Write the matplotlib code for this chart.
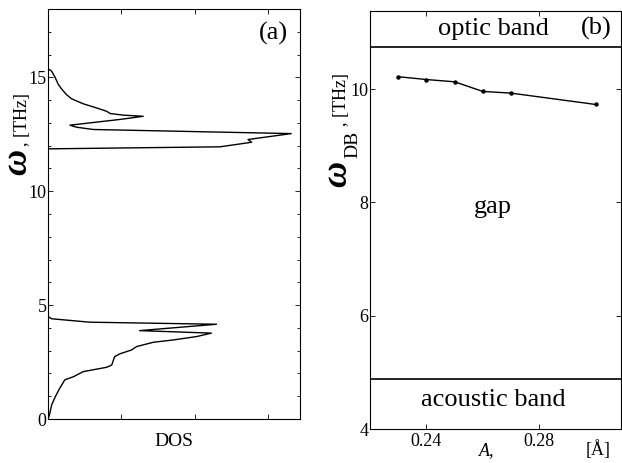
import matplotlib
matplotlib.use("Agg")
import matplotlib.pyplot as plt
from matplotlib.ticker import MultipleLocator

plt.rcParams['font.family'] = ['Liberation Serif', 'DejaVu Serif']
plt.rcParams['mathtext.fontset'] = 'stix'

# (a) density of states from bottom to top
dos = [0, 0.02, 0.05, 0.10, 0.16, 0.23, 0.35, 0.48, 0.80, 0.87, 0.91, 0.98,
       1.14, 1.21, 1.44, 1.71, 2.03, 2.23, 1.25, 1.70, 2.30, 0.57, 0.05, 0,
       0, 2.35, 2.78, 2.73, 3.32, 0.62, 0.39, 0.30, 0.98, 1.30, 1.03, 0.85,
       0.80, 0.66, 0.48, 0.32, 0.25, 0.19, 0.14, 0.10, 0.05, 0, 0]
omega = [0, 0.18, 0.62, 0.98, 1.35, 1.72, 1.86, 2.08, 2.27, 2.37, 2.74, 2.86,
         3.03, 3.18, 3.37, 3.47, 3.62, 3.77, 3.88, 4.00, 4.16, 4.25, 4.40, 4.50,
         11.86, 11.95, 12.15, 12.27, 12.53, 12.71, 12.81, 12.90, 13.15, 13.29, 13.34, 13.41,
         13.51, 13.66, 13.84, 14.06, 14.25, 14.47, 14.69, 14.98, 15.27, 15.38, 18]

# (b) discrete breather frequency vs amplitude
amp = [0.23, 0.24, 0.25, 0.26, 0.27, 0.30]
omega_db = [10.22, 10.17, 10.13, 9.96, 9.93, 9.73]
optic_edge = 10.74
acoustic_edge = 4.88

W, H = 622, 463
fig = plt.figure(figsize=(6.22, 4.63), dpi=100)

def px(x0, y0, x1, y1):
    return [x0 / W, 1 - y1 / H, (x1 - x0) / W, (y1 - y0) / H]

ax1 = fig.add_axes(px(48, 9, 300, 419))
ax2 = fig.add_axes(px(370, 11, 621, 429))

for ax in (ax1, ax2):
    for s in ax.spines.values():
        s.set_linewidth(0.8)
    ax.tick_params(which='both', direction='in', top=True, right=True,
                   labelsize=13, pad=1, width=0.6)
    ax.tick_params(which='major', length=3.5)
    ax.tick_params(which='minor', length=2.2)

# panel (a)
ax1.plot(dos, omega, color='black', lw=1.0)
ax1.set_xlim(0, 3.44)
ax1.set_ylim(0, 18)
ax1.xaxis.set_major_locator(MultipleLocator(1))
ax1.yaxis.set_major_locator(MultipleLocator(5))
ax1.yaxis.set_minor_locator(MultipleLocator(1))
ax1.set_xticklabels([])
ax1.set_xlabel('DOS', fontsize=14, labelpad=9)
ax1.text(0.895, 0.94, '(a)', transform=ax1.transAxes, fontsize=19,
         ha='center', va='center')

# panel (b)
ax2.plot(amp, omega_db, color='black', lw=1.0, marker='o', ms=2.2)
ax2.axhline(optic_edge, color='black', lw=1.2)
ax2.axhline(acoustic_edge, color='black', lw=1.2)
ax2.set_xlim(0.22, 0.309)
ax2.set_ylim(4, 11.38)
ax2.set_xticks([0.24, 0.28])
ax2.set_xticklabels(['0.24', '0.28'])
ax2.set_yticks([4, 6, 8, 10])
ax2.tick_params(axis='x', pad=3)
ax2.text(0.49, 0.958, 'optic band', transform=ax2.transAxes, fontsize=19,
         ha='center', va='center')
ax2.text(0.9, 0.958, '(b)', transform=ax2.transAxes, fontsize=19,
         ha='center', va='center')
ax2.text(0.49, 0.53, 'gap', transform=ax2.transAxes, fontsize=19,
         ha='center', va='center')
ax2.text(0.49, 0.07, 'acoustic band', transform=ax2.transAxes, fontsize=19,
         ha='center', va='center')

# axis labels placed in figure pixels
def ftext(x, y, s, **kw):
    fig.text(x / W, 1 - y / H, s, ha='center', va='center', **kw)

ftext(18, 162, 'ω', fontsize=26, style='italic', weight='bold', rotation=90)
ftext(22, 120, ', [THz]', fontsize=13, rotation=90)

ftext(338, 174, 'ω', fontsize=26, style='italic', weight='bold', rotation=90)
ftext(353, 144, 'DB', fontsize=14, rotation=90)
ftext(342, 100, ', [THz]', fontsize=13, rotation=90)

ftext(487, 451, 'A,', fontsize=13, style='italic')
ftext(598, 450, '[Å]', fontsize=13)

fig.savefig('out.png', dpi=100)
